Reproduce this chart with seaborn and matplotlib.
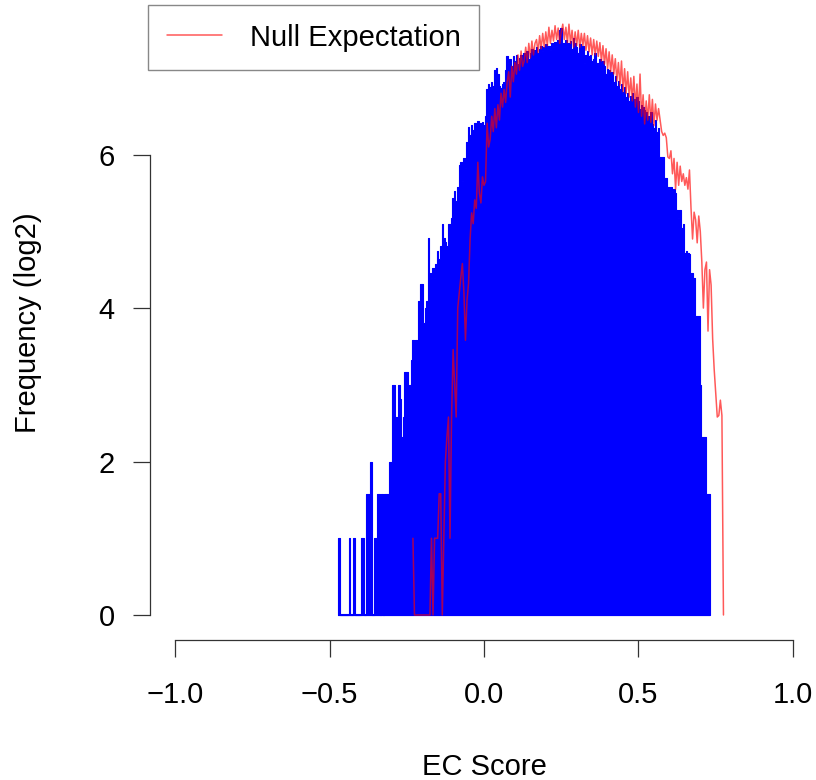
import numpy as np
import pandas as pd
import matplotlib
matplotlib.use("Agg")
import matplotlib.pyplot as plt
import seaborn as sns

sns.set_theme(style="white")
plt.rcParams['font.family'] = ['Liberation Sans', 'DejaVu Sans']
plt.rcParams['text.color'] = 'black'
plt.rcParams['axes.labelcolor'] = 'black'

# ---- data (log2 frequencies) ----
bin_width = 0.005
blue_start = -0.470          # first EC-score bin centre (observed)
null_start = -0.230          # first EC-score point of the null expectation

observed_log2 = [
    1, 0, 0, 0, 0, 0, 0, 1, 0, 0,
    1, 0, 0, 0, 0, 1, 1, 0, 1.58, 1.58,
    1.58, 2.0, 0, 1, 1, 1.58, 1.58, 0, 1.58, 0,
    1.58, 1.58, 1.58, 2.0, 2.0, 3.0, 3.0, 2.58, 2.58, 3.0,
    2.81, 2.32, 2.58, 3.17, 3.17, 2.58, 3.0, 3.32, 3.58, 3.46,
    3.58, 3.32, 4.09, 4.32, 4.32, 3.81, 4.0, 4.09, 4.91, 4.46,
    4.39, 4.52, 4.39, 4.58, 4.75, 4.64, 4.81, 5.09, 4.91, 4.86,
    4.81, 5.09, 5.09, 5.17, 5.43, 5.52, 5.39, 5.58, 5.86, 5.91,
    5.66, 5.95, 5.83, 6.17, 6.36, 6.25, 6.39, 6.32, 6.41, 6.39,
    6.44, 6.34, 6.41, 6.43, 6.39, 6.5, 6.86, 6.92, 6.88, 6.95,
    6.9, 7.1, 7.13, 7.05, 6.9, 6.87, 6.92, 6.95, 7.1, 7.28,
    7.2, 7.25, 7.15, 7.28, 7.22, 7.3, 7.18, 7.26, 7.3, 7.2,
    7.32, 7.28, 7.35, 7.25, 7.33, 7.38, 7.3, 7.36, 7.4, 7.32,
    7.38, 7.42, 7.35, 7.4, 7.44, 7.38, 7.42, 7.36, 7.45, 7.4,
    7.47, 7.42, 7.5, 7.62, 7.65, 7.45, 7.4, 7.5, 7.42, 7.45,
    7.48, 7.38, 7.52, 7.45, 7.4, 7.32, 7.44, 7.36, 7.42, 7.2,
    7.3, 7.35, 7.28, 7.3, 7.22, 7.25, 7.32, 7.2, 7.18, 7.25,
    7.1, 7.22, 7.15, 7.05, 7.12, 7.1, 7.0, 7.08, 6.95, 7.02,
    6.9, 6.96, 6.85, 6.92, 6.82, 6.88, 6.75, 6.8, 6.7, 6.76,
    6.8, 6.72, 6.7, 6.75, 6.7, 6.6, 6.65, 6.62, 6.58, 6.55,
    6.5, 6.45, 6.55, 6.4, 6.35, 6.45, 6.3, 6.35, 5.97, 5.97,
    5.97, 5.7, 5.7, 5.58, 5.55, 5.58, 5.52, 5.55, 5.5, 5.28,
    5.17, 5.28, 5.05, 5.09, 4.72, 4.75, 4.72, 4.7, 4.46, 4.46,
    4.39, 3.9, 3.9, 3.9, 3.0, 2.32, 2.32, 2.32, 1.58, 1.58,
    1.58,
]

null_log2 = [
    1.0, 0, 0, 0, 0, 0, 0, 0, 0, 0,
    0, 0, 1.0, 0, 1.0, 1.0, 1.0, 1.58, 1.58, 0,
    1.0, 2.0, 2.32, 2.58, 1.0, 2.58, 3.46, 3.0, 2.58, 4.0,
    4.2, 4.4, 4.58, 4.2, 3.58, 4.1, 4.32, 4.9, 5.24, 5.1,
    5.41, 5.3, 5.9, 5.5, 5.37, 5.71, 5.6, 5.65, 6.41, 6.1,
    6.2, 6.5, 6.3, 6.6, 6.35, 6.65, 6.45, 6.8, 6.62, 6.85,
    6.68, 6.95, 7.08, 6.75, 7.15, 6.95, 7.2, 7.05, 7.3, 7.1,
    7.35, 7.15, 7.22, 7.4, 7.2, 7.45, 7.26, 7.48, 7.3, 7.45,
    7.5, 7.33, 7.55, 7.38, 7.58, 7.4, 7.6, 7.42, 7.66, 7.45,
    7.62, 7.48, 7.68, 7.5, 7.65, 7.45, 7.6, 7.7, 7.5, 7.66,
    7.46, 7.7, 7.45, 7.62, 7.4, 7.6, 7.42, 7.62, 7.4, 7.58,
    7.42, 7.58, 7.36, 7.55, 7.34, 7.52, 7.3, 7.5, 7.3, 7.48,
    7.28, 7.46, 7.22, 7.42, 7.18, 7.38, 7.12, 7.34, 7.08, 7.3,
    7.05, 7.25, 6.96, 7.2, 6.9, 7.22, 6.82, 7.12, 6.8, 7.08,
    6.75, 7.0, 6.7, 7.02, 6.62, 6.92, 6.55, 7.05, 6.5, 6.78,
    6.4, 6.7, 6.45, 6.78, 6.42, 6.72, 6.38, 6.66, 6.45, 6.6,
    6.45, 6.3, 6.25, 6.28, 6.22, 5.97, 5.95, 6.05, 5.75, 5.95,
    5.55, 5.9, 5.6, 5.85, 5.65, 5.75, 5.6, 5.7, 5.55, 5.8,
    5.3, 4.9, 5.25, 5.15, 4.85, 5.2, 5.0, 4.6, 4.0, 4.5,
    4.6, 3.7, 4.5, 4.3, 3.6, 3.2, 2.9, 2.58, 2.6, 2.8,
    2.6, 0.0,
]

x_ticks = [-1.0, -0.5, 0.0, 0.5, 1.0]
x_tick_labels = ["\u22121.0", "\u22120.5", "0.0", "0.5", "1.0"]
y_ticks = [0, 2, 4, 6]
y_tick_labels = ["0", "2", "4", "6"]

# ---- derived positions ----
obs_df = pd.DataFrame({
    "score": blue_start + bin_width * np.arange(len(observed_log2)),
    "log2": observed_log2,
})
null_df = pd.DataFrame({
    "score": null_start + bin_width * np.arange(len(null_log2)),
    "log2": null_log2,
})
lo = float(obs_df["score"].iloc[0] - bin_width / 2)
hi = float(obs_df["score"].iloc[-1] + bin_width / 2)

W, H = 816, 780
fig = plt.figure(figsize=(W / 100, H / 100), dpi=100)
ax = fig.add_axes([150.3 / W, 140 / H, 667.4 / W, 635 / H])

sns.histplot(data=obs_df, x="score", weights="log2", binwidth=bin_width,
             binrange=(lo, hi), element="step", fill=True, color="#0000ff",
             alpha=1, linewidth=0.8, ax=ax)
ax.hlines(0, lo, hi, color="#0000ff", lw=1.5, zorder=2)
sns.lineplot(data=null_df, x="score", y="log2", color="red", alpha=0.65,
             lw=1.1, label="Null Expectation", ax=ax, zorder=3)

ax.set_xlim(-1.08, 1.08)
ax.set_ylim(-0.326, 7.95)

for s in ["top", "right"]:
    ax.spines[s].set_visible(False)
for s in ["left", "bottom"]:
    ax.spines[s].set_color("#333333")
    ax.spines[s].set_linewidth(0.9)
ax.spines["left"].set_bounds(0, 6)
ax.spines["bottom"].set_bounds(-1, 1)

ax.set_xticks(x_ticks, labels=x_tick_labels)
ax.set_yticks(y_ticks, labels=y_tick_labels)
ax.tick_params(axis="both", direction="out", length=12.5, width=0.9,
               color="#333333", labelsize=21, labelcolor="black")
ax.tick_params(axis="x", pad=17, bottom=True)
ax.tick_params(axis="y", pad=13, left=True)

ax.set_xlabel("EC Score", fontsize=21, color="black")
ax.set_ylabel("Frequency (log2)", fontsize=21, color="black")
ax.xaxis.set_label_coords(0.5, -0.178)
ax.yaxis.set_label_coords(-0.162, 0.5)

leg = ax.legend(loc="upper left", bbox_to_anchor=(-0.003, 1.0), borderaxespad=0,
                fontsize=21, handlelength=1.9, handletextpad=0.93, borderpad=0.64,
                frameon=True, fancybox=False, edgecolor="#888888", framealpha=1)
leg.get_frame().set_linewidth(1.0)
for t in leg.get_texts():
    t.set_color("black")

fig.savefig("out.png", dpi=100)
